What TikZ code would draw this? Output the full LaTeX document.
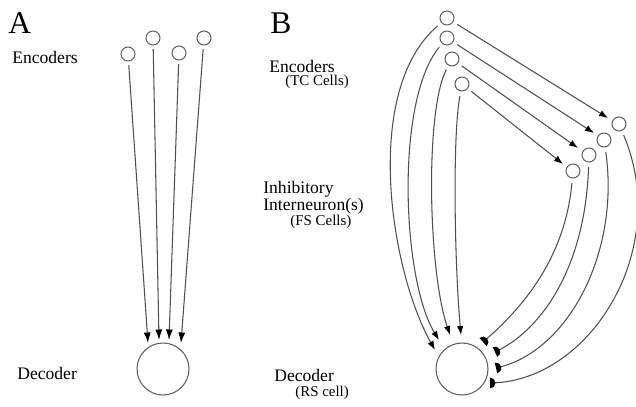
\documentclass[tikz,border=0pt]{standalone}
\usepackage{fontspec}
\setmainfont{Liberation Serif}
\usetikzlibrary{arrows.meta}
\definecolor{wire}{HTML}{505050}
\definecolor{rim}{HTML}{606060}

% filled half disc: flat side at the end of the line, round side behind it
\pgfdeclarearrow{
  name = HalfDisc,
  parameters = {\the\pgfarrowlength},
  setup code = {
    \pgfarrowssettipend{0pt}
    \pgfarrowssetlineend{-0.5\pgfarrowlength}
    \pgfarrowssetbackend{-\pgfarrowlength}
    \pgfarrowssavethe\pgfarrowlength
  },
  drawing code = {
    \pgfpathmoveto{\pgfqpoint{0pt}{\pgfarrowlength}}
    \pgfpatharc{90}{270}{\pgfarrowlength}
    \pgfpathclose
    \pgfusepathqfill
  },
  defaults = {length = 2.3pt}
}

\tikzset{
  cell/.style={circle,draw=rim,line width=0.6pt,minimum size=0.28cm,inner sep=0pt},
  bigcell/.style={circle,draw=rim,line width=0.6pt,minimum size=1.04cm,inner sep=0pt},
  label/.style={anchor=base west,inner sep=0pt,font=\fontsize{10}{12}\selectfont},
  sublabel/.style={anchor=base west,inner sep=0pt,font=\fontsize{8.5}{10}\selectfont},
  panel/.style={anchor=base west,inner sep=0pt,font=\fontsize{18}{20}\selectfont},
  excite/.style={draw=wire,line width=0.6pt,shorten <=0.07cm,
    -{Latex[length=0.21cm,width=0.14cm,color=black]}},
  exciteB/.style={draw=wire,line width=0.6pt,shorten <=0.09cm,
    -{Latex[length=0.18cm,width=0.13cm,color=black]}},
  inhibit/.style={draw=wire,line width=0.6pt,shorten <=0.09cm,
    -{HalfDisc[length=3.1pt,color=black]}},
}
\begin{document}
\begin{tikzpicture}[x=0.02cm,y=-0.02cm]
\useasboundingbox (0,0) rectangle (636,406);

% ---------- panel A ----------
\node[panel] (pA) at (8,33) {A};
\node[label] (encA) at (12,63) {Encoders};
\node[label] (decA) at (17,379) {Decoder};

\node[cell] (a1) at (128,54) {};
\node[cell] (a2) at (153,38) {};
\node[cell] (a3) at (179,53) {};
\node[cell] (a4) at (204,38) {};
\node[bigcell] (dA) at (163,369) {};

\coordinate (ta1) at (148,343);
\coordinate (ta2) at (159,340);
\coordinate (ta3) at (169,340);
\coordinate (ta4) at (181,343);

\draw[excite] (a1) -- (ta1);
\draw[excite] (a2) -- (ta2);
\draw[excite] (a3) -- (ta3);
\draw[excite] (a4) -- (ta4);

% ---------- panel B ----------
\node[panel] (pB) at (270,33) {B};
\node[label] (encB) at (269,72) {Encoders};
\node[sublabel] (tc) at (285,85) {(TC Cells)};
\node[label] (inh1) at (263,193) {Inhibitory};
\node[label] (inh2) at (263,210) {Interneuron(s)};
\node[sublabel] (fs) at (290,225) {(FS Cells)};
\node[label] (decB) at (274,381) {Decoder};
\node[sublabel] (rs) at (295,396) {(RS cell)};

% encoders (TC cells)
\node[cell] (e1) at (447,18) {};
\node[cell] (e2) at (447,38) {};
\node[cell] (e3) at (452,59) {};
\node[cell] (e4) at (462,84) {};

% interneurons (FS cells)
\node[cell] (i1) at (619,124) {};
\node[cell] (i2) at (604,140) {};
\node[cell] (i3) at (589,155) {};
\node[cell] (i4) at (573,171) {};

% decoder (RS cell)
\node[bigcell] (dB) at (462,369) {};

% feed-forward drive onto the interneurons
\coordinate (ti1) at (608,118);
\coordinate (ti2) at (594,133);
\coordinate (ti3) at (578,148);
\coordinate (ti4) at (563,164);
\draw[exciteB] (e1) -- (ti1);
\draw[exciteB] (e2) -- (ti2);
\draw[exciteB] (e3) -- (ti3);
\draw[exciteB] (e4) -- (ti4);

% direct excitation of the decoder
\coordinate (td1) at (435,350);
\coordinate (td2) at (439,340);
\coordinate (td3) at (450,335);
\coordinate (td4) at (461,335);
\draw[exciteB] (e1) .. controls (362,90) and (390,270) .. (td1);
\draw[exciteB] (e2) .. controls (395,100) and (402,280) .. (td2);
\draw[exciteB] (e3) .. controls (425,110) and (428,270) .. (td3);
\draw[exciteB] (e4) .. controls (452,140) and (455,270) .. (td4);

% inhibition of the decoder
\coordinate (tb1) at (490,383);
\coordinate (tb2) at (496,368);
\coordinate (tb3) at (495,352);
\coordinate (tb4) at (483,342);
\draw[inhibit] (i1) .. controls (672,250) and (590,380) .. (tb1);
\draw[inhibit] (i2) .. controls (620,250) and (570,350) .. (tb2);
\draw[inhibit] (i3) .. controls (585,270) and (540,330) .. (tb3);
\draw[inhibit] (i4) .. controls (565,260) and (520,310) .. (tb4);
\end{tikzpicture}
\end{document}
